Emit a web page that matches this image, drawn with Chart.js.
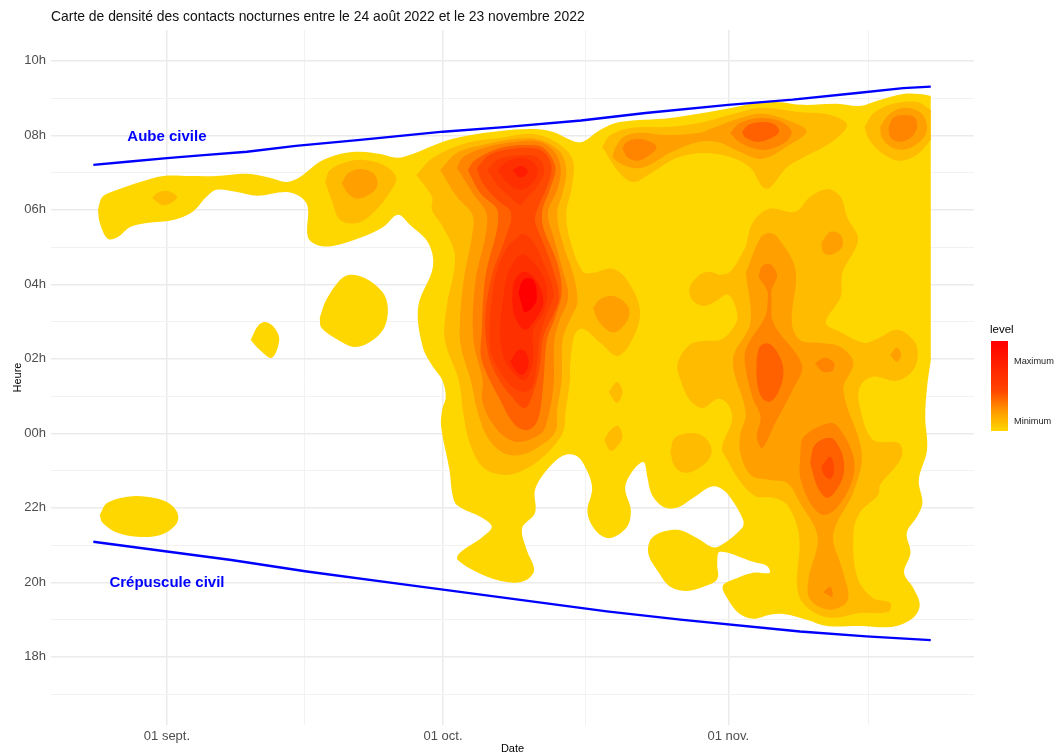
<!DOCTYPE html>
<html lang="fr">
<head>
<meta charset="utf-8">
<title>Carte de densité</title>
<script src="https://cdn.jsdelivr.net/npm/chart.js@4"></script>
<style>html,body{margin:0;padding:0;background:#fff}canvas{display:block}</style>
</head>
<body>
<canvas id="c" width="1059" height="756"></canvas>
<script>
// x = days since 1 Sept 2022; y = hour of night (24 = midnight, 32 = 08h next day)
const chartTitle = 'Carte de densité des contacts nocturnes entre le 24 août 2022 et le 23 novembre 2022';
const xTicks = [0, 15, 30, 45.5, 61, 76.2];
const xLabels = {0: '01 sept.', 30: '01 oct.', 61: '01 nov.'};
const yTicks = [17,18,19,20,21,22,23,24,25,26,27,28,29,30,31,32,33,34];

const dawnLine = [[-8,31.21],[-4,31.3],[0,31.39],[4,31.47],[8.7,31.56],[14,31.72],[21,31.88],[30,32.10],[37,32.23],[45,32.40],[52,32.60],[61,32.82],[68,32.96],[75,33.14],[80,33.27],[83,33.31]];
const duskLine = [[-8,21.09],[0,20.83],[7,20.6],[15.2,20.29],[25.3,19.96],[38.4,19.53],[47.8,19.22],[55.8,19.00],[68.8,18.68],[76,18.55],[83,18.45]];
const noteText = ['Aube civile', 'Crépuscule civil'];
const notePos = [[0,31.97],[0,19.98]];
const legendLabels = ['Maximum', 'Minimum'];

// Contour level 1 (gold)
const l1Main = [[-7.5,30],[-7,30.35],[-5.4,30.54],[-2.9,30.75],[-0.4,30.91],[2.5,30.91],[5.4,30.91],[8.7,30.97],[11.2,30.86],[13,30.75],[14.5,30.89],[16.6,31.29],[18.8,31.5],[21,31.56],[23.2,31.5],[25,31.4],[26.7,31.5],[30,31.83],[32.6,31.99],[36.2,32.12],[39.8,32.17],[42,32.09],[44.1,31.85],[45.2,31.83],[47.1,32.15],[49.2,32.36],[54.7,32.47],[60.1,32.68],[64.1,32.87],[66.3,32.9],[69.1,32.82],[72.8,32.85],[75.3,32.79],[77.2,32.93],[80,33.11],[81.8,33.11],[82.8,33.07],[83,33.05],[83,32.95],[83,30],[83,26.1],[83,25.97],[82.6,25.25],[82.4,24.44],[82.6,23.56],[81.7,22.75],[82.1,22.13],[81.5,21.76],[80.4,21.33],[80.8,20.79],[80.1,20.26],[81.1,19.85],[81.8,19.4],[81.1,19.05],[78.9,18.81],[75.3,18.83],[71.7,18.83],[69.6,18.99],[67,19.15],[65.5,19.13],[63.7,19.02],[62.1,19.18],[61,19.53],[60.4,19.91],[62,20.12],[63.7,20.26],[65.5,20.26],[65.2,20.44],[63.7,20.55],[60.1,20.82],[59.8,20.52],[59.8,20.09],[58.3,19.88],[56.5,19.77],[54.7,19.88],[53.4,20.28],[52.3,20.79],[52.8,21.22],[55.4,21.41],[57.6,21.19],[59.2,20.95],[60.1,20.98],[62.5,21.46],[62.6,21.68],[61,22.35],[59.9,22.56],[59,22.56],[57.2,22.27],[55.4,22],[53.9,22.03],[52.7,22.35],[52.2,22.83],[51.8,23.23],[50.7,23.02],[49.8,22.54],[50.4,21.95],[50,21.49],[48.2,21.19],[46.7,21.36],[45.7,21.87],[46.2,22.56],[45.2,23.21],[44.3,23.42],[43,23.4],[41.3,23.02],[40,22.48],[40,21.87],[38.6,21.46],[39.1,20.87],[39.9,20.34],[39.1,20.07],[37.6,19.99],[34.8,20.15],[31.6,20.6],[31.8,20.79],[34.3,21.22],[35.3,21.49],[34.3,21.73],[31.5,22.08],[31,22.4],[30.7,23.02],[29.8,24.17],[29.9,24.63],[30.3,24.98],[29.9,25.44],[28.9,25.79],[27.8,26.32],[27.3,27.4],[28.9,28.47],[28.4,29.11],[26.4,29.6],[25.1,29.87],[23.5,29.54],[21,29.25],[18,29.03],[16.3,29.06],[15.3,29.28],[15.3,30.08],[14.5,30.35],[13,30.48],[9.8,30.38],[7.6,30.48],[5.4,30.54],[4.3,30.35],[2.8,29.95],[0.7,29.73],[-2.2,29.65],[-4,29.54],[-5.3,29.28],[-6.4,29.22],[-7.3,29.65]];
const l1BlobA = [[16.6,27.1],[17.3,27.58],[18.8,28.12],[19.9,28.26],[21.5,28.17],[23.4,27.8],[24,27.37],[23.6,26.83],[22.1,26.46],[20.4,26.32],[18.6,26.51],[16.8,26.83]];
const l1BlobB = [[9.1,26.51],[9.9,26.89],[10.7,26.99],[11.7,26.83],[12.2,26.51],[11.4,26.03],[10.1,26.24]];
const l1BlobC = [[-7.3,21.81],[-6.5,22.13],[-4.3,22.3],[-2.2,22.3],[0,22.16],[1.1,21.89],[1.1,21.6],[-0.4,21.3],[-2.9,21.22],[-5.4,21.33],[-7,21.6]];

// Contour level 2
const l2Small = [[-1.6,30.32],[-1,30.46],[0.1,30.51],[1.1,30.35],[0.5,30.19],[-0.5,30.13]];
const l2Sept = [[17.2,30.75],[17.7,31.07],[19.6,31.29],[21.3,31.34],[23.5,31.21],[24.9,30.86],[23.9,30.35],[22.4,29.92],[20.7,29.65],[18.8,29.73],[18,30.19]];
const l2Central = [[27.1,30.94],[28.9,31.4],[32.6,31.8],[36.2,31.93],[39.8,32.04],[42.4,31.8],[44.1,31.34],[44,30.62],[43.4,29.92],[43.8,29.19],[45.2,28.34],[46.3,28.31],[48.4,28.42],[50,28.12],[51.4,27.32],[50.7,26.59],[49,26.08],[47.1,26.43],[45.2,26.81],[44.3,26.64],[43.8,25.79],[43.8,25.44],[43.3,24.55],[43,24.01],[40.9,23.37],[38.4,22.97],[36.5,22.89],[34.3,23.1],[32.9,23.74],[32.2,24.55],[31.7,25.44],[30.2,26.51],[30.4,27.4],[31.3,28.74],[30,29.54],[28.8,30],[28.8,30.35]];
const l2Diamond = [[48,25.11],[48.9,25.38],[49.5,25.11],[48.9,24.82]];
const l2Drop = [[47.5,23.83],[48.2,24.09],[49,24.2],[49.5,23.91],[48.9,23.64],[48.2,23.53]];
const l2Round = [[54.7,23.5],[55.2,23.88],[57.1,24.01],[58.5,23.88],[59.2,23.5],[58.3,23.15],[56.5,22.94],[55.2,23.1]];
const l2TopBand = [[47.3,31.69],[48.2,32.01],[50.4,32.2],[54.7,32.23],[58.3,32.36],[61.9,32.6],[64.7,32.74],[68.5,32.63],[72.1,32.55],[73.9,32.28],[72.1,31.8],[69.1,31.4],[67.4,31.15],[65.5,30.59],[64.7,30.62],[63.4,31.13],[61.2,31.42],[58.3,31.53],[55.4,31.4],[52.8,31.02],[50.7,30.75],[49.2,30.99]];
const l2TopRight = [[75.8,32.23],[76.8,32.6],[78.9,32.85],[81.5,32.9],[82.8,32.72],[83,32.66],[83,32.55],[83,32],[83,31.9],[82.8,31.82],[81.5,31.48],[79.5,31.32],[77.5,31.56],[76.2,31.93]];
const l2Right = [[62.9,29.01],[63.7,29.68],[65.5,30.03],[68.3,29.95],[69.9,30.35],[71.8,30.56],[73.2,30.35],[73.9,29.81],[75.1,29.19],[73.4,28.31],[73.2,27.66],[71.6,26.97],[73.2,26.72],[75.7,26.43],[77.2,26.54],[79.3,26.78],[81.1,26.51],[81.6,26.16],[81.1,25.7],[79.3,25.41],[76.7,25.52],[75.3,25.25],[75.3,24.71],[76.7,23.83],[79.5,23.74],[79.9,23.42],[78.9,23.02],[77.5,22.62],[77.3,22.35],[75.3,21.87],[74.6,21.33],[75,20.15],[76.7,19.58],[78.6,19.45],[78.4,19.21],[75.3,19.18],[72.1,19.05],[69.6,19.32],[68.5,19.8],[68.7,21.22],[67.5,22.05],[65.9,22.27],[63.9,22.32],[62,22.81],[60.9,23.29],[60.3,23.61],[61.4,24.36],[61,24.77],[59.9,24.93],[58.2,24.68],[56.8,24.9],[55.8,25.44],[55.5,25.89],[56.8,26.38],[58.3,26.48],[60.1,26.51],[61.2,26.72],[62,27.13],[61,27.72],[59.3,27.5],[58.2,27.42],[57.1,27.58],[56.8,27.91],[57.9,28.26],[59,28.34],[60.1,28.26],[61.2,28.34],[62.3,28.74]];

// Contour level 3
const l3Sept = [[19,30.72],[19.7,30.99],[21,31.1],[22.4,30.99],[22.9,30.72],[22.4,30.48],[20.7,30.3],[19.6,30.46]];
const l3Central = [[29.7,31.07],[31.5,31.53],[34.3,31.74],[38,31.91],[40.5,31.88],[42.7,31.56],[43.4,31.07],[43,30.46],[42.4,29.92],[43,29.11],[44.1,28.31],[44.6,27.53],[43.8,27.05],[43,26.51],[42.9,25.44],[42.4,24.63],[42.2,24.04],[40.2,23.61],[38.4,23.42],[36.5,23.48],[34.8,23.91],[33.7,24.63],[33,25.44],[32.1,26.16],[31.8,26.7],[32.2,28.04],[33.2,29.38],[33.2,29.87],[31.5,30.35]];
const l3Lobe = [[46.3,27.37],[47.1,27.61],[48.5,27.69],[50,27.45],[50.2,27.13],[49.2,26.78],[48.2,26.72],[46.8,27.05]];
const l3TopBand = [[48.7,31.66],[49.6,31.96],[51.4,32.07],[54.2,32.01],[57.9,32.07],[59.3,32.2],[62.3,32.47],[64.7,32.58],[67.3,32.42],[69.5,32.12],[67.6,31.74],[64.7,31.37],[62.2,31.56],[60.1,31.8],[57.9,31.83],[54.9,31.56],[51.9,31.15],[50.2,31.15],[48.5,31.4]];
const l3TopRight = [[77.5,32.23],[78.4,32.55],[80,32.74],[81.8,32.63],[82.6,32.28],[82.2,31.93],[80.5,31.64],[78.9,31.66],[77.7,31.93]];
const l3SmallA = [[71.1,29.11],[72.1,29.41],[73.2,29.33],[73.4,29.01],[72.1,28.79],[71.3,28.87]];
const l3SmallB = [[78.6,26.11],[79.3,26.3],[79.8,26.11],[79.3,25.92]];
const l3Right = [[62.9,28.31],[64.5,29.25],[65.5,29.38],[66.4,29.25],[68.3,28.39],[67.9,26.97],[68.8,26.51],[71,26.43],[73.2,26.32],[74.6,25.89],[73.5,25.17],[75.5,23.48],[74.6,22.43],[72.4,21.28],[73.4,20.34],[74,19.53],[72.1,19.26],[69.9,19.53],[69.7,20.07],[70.7,21.22],[68.8,22.13],[67.4,22.67],[65.5,22.75],[63.4,22.89],[62.3,23.48],[62.3,23.96],[62.9,24.55],[61.5,25.97],[63.4,26.97]];

// Contour level 4
const l4Central = [[31.5,31.13],[32.2,31.42],[34.8,31.69],[38,31.83],[40.5,31.83],[42.2,31.53],[42.8,31.07],[42.4,30.54],[41.4,29.92],[42,29.28],[43,28.39],[43.6,27.66],[42.7,27.05],[42.1,26.51],[42,25.25],[41.2,24.23],[40.5,23.96],[38,23.77],[35.9,24.09],[34.3,24.82],[34.3,25.44],[33.3,26.51],[33.5,28.04],[34.8,29.81],[33.2,30.46]];
const l4TopA = [[49.5,31.66],[50,31.83],[51.2,31.91],[52.8,31.8],[53.2,31.66],[52.5,31.48],[51.2,31.32],[50,31.42]];
const l4TopB = [[61.2,32.07],[62.3,32.34],[64.7,32.47],[66.8,32.36],[67.9,32.09],[67.1,31.8],[64.8,31.61],[62.3,31.8]];
const l4TopC = [[78.4,32.2],[78.9,32.47],[80.2,32.55],[81.3,32.47],[81.5,32.2],[80.8,31.93],[79.5,31.83],[78.6,31.96]];
const l4RightUp = [[64.3,28.2],[64.6,28.47],[65.5,28.55],[66.3,28.26],[65.7,27.85],[65.7,27.66],[65.9,26.97],[69,25.84],[68,25.17],[66.1,24.28],[64.7,23.61],[64.1,23.91],[64.5,24.44],[63.6,24.98],[62.8,25.89],[63,26.32],[65,27.13],[65.3,27.66],[65.2,27.85]];
const l4SmallA = [[70.4,25.89],[71.5,26.03],[72.5,25.89],[72.3,25.68],[71.3,25.65]];
const l4RightLow = [[68.8,23.37],[69.2,23.91],[72.1,24.28],[73.2,24.09],[74.6,23.37],[74.5,22.75],[72.8,22],[71.3,21.81],[69.9,22.13],[68.8,22.83]];
const l4SmallB = [[71.3,19.74],[72.1,19.88],[72.3,19.61]];

// Contour level 5
const l5Central = [[32.7,31.07],[33.5,31.34],[36.2,31.66],[39.1,31.74],[40.9,31.66],[42.2,31.15],[41.6,30.54],[40.8,30],[40.9,29.52],[42.4,28.58],[42.9,27.8],[42.2,27.13],[41.3,26.51],[40.9,25.36],[40.3,24.36],[39.2,24.09],[37.8,24.23],[36.2,24.9],[34.2,25.97],[34.2,26.7],[34.6,28.2],[36,29.92],[34,30.46]];
const l5TopB = [[62.5,32.09],[63.2,32.28],[64.8,32.36],[66.1,32.28],[66.5,32.09],[65.5,31.91],[64.1,31.83],[62.8,31.96]];
const l5RightUp = [[64.1,26.05],[64.5,26.35],[65.5,26.4],[66.6,26.05],[67,25.62],[66.4,25.09],[65.5,24.85],[64.6,24.98],[64.1,25.44]];
const l5RightLow = [[69.9,23.21],[70.4,23.69],[72.1,23.88],[73.2,23.56],[73.6,23.1],[73.2,22.67],[71.8,22.27],[70.7,22.56]];

// Contour level 6
const l6Central = [[33.7,31.13],[35.1,31.48],[37.6,31.64],[40.2,31.64],[41.4,31.42],[41.8,31.07],[41.3,30.62],[40.2,30],[40,29.68],[40.9,29.11],[42.2,28.2],[42.6,27.66],[42.2,27.32],[40.9,26.59],[40.5,25.79],[39.8,25.09],[38.9,24.68],[37.6,24.95],[35.9,25.52],[34.9,26.16],[34.6,27.13],[35.4,28.31],[36.7,29.19],[37.4,29.92],[35.9,30.27],[34.3,30.72]];
const l6RightLow = [[71.1,23.1],[72.1,23.37],[72.5,23.02],[72.1,22.78],[71.4,22.89]];

// Contour level 7
const l7Top = [[34.8,31.07],[35.9,31.34],[38,31.46],[40.2,31.42],[41,31.07],[40.2,30.62],[38.9,30.27],[38.4,30.13],[37.3,30.35],[35.9,30.67]];
const l7Column = [[37.8,29.19],[38.7,29.36],[39.8,29.14],[40.9,28.58],[42,27.77],[41.3,27.23],[40.5,26.59],[40.2,25.89],[39.7,25.25],[38.7,25.11],[37.3,25.3],[35.9,25.79],[35.1,26.32],[35.3,27.58],[35.9,28.39],[37,29.01]];

// Contour level 8
const l8Top = [[35.9,31.07],[36.9,31.29],[38.4,31.4],[39.8,31.29],[40.3,31.02],[39.7,30.72],[38.4,30.54],[36.9,30.75]];
const l8Column = [[38,28.74],[38.9,28.79],[40.5,28.39],[41.3,27.85],[40.9,27.23],[39.8,26.78],[39.8,25.97],[38.9,25.44],[37.5,25.65],[36.5,26.11],[36.2,26.78],[36.5,27.58],[37,28.26]];

// Contour level 9
const l9Top = [[37.6,31.07],[38.4,31.18],[39.2,31.07],[38.9,30.91],[38.2,30.89]];
const l9Upper = [[37.5,27.58],[37.8,28.12],[38.9,28.34],[40.3,28.04],[40.9,27.5],[40,27.05],[38.9,26.78],[37.8,27.13]];
const l9Lower = [[37.3,25.92],[38.2,26.24],[39,26.19],[39.3,25.84],[38.7,25.57],[38,25.65]];

// Contour level 10 (peak)
const l10Peak = [[38.2,27.77],[38.7,28.12],[39.8,28.12],[40.2,27.66],[39.8,27.4],[38.9,27.26],[38.5,27.5]];

const levelColors = ['#FFD700','#FFBB00','#FFA000','#FF8500','#FF6000','#FF4800','#FF3C00','#FF3000','#FF1C00','#FF0000'];
const levelShapes = [
  [l1Main,l1BlobA,l1BlobB,l1BlobC],
  [l2Small,l2Sept,l2Central,l2Diamond,l2Drop,l2Round,l2TopBand,l2TopRight,l2Right],
  [l3Sept,l3Central,l3Lobe,l3TopBand,l3TopRight,l3SmallA,l3SmallB,l3Right],
  [l4Central,l4TopA,l4TopB,l4TopC,l4RightUp,l4SmallA,l4RightLow,l4SmallB],
  [l5Central,l5TopB,l5RightUp,l5RightLow],
  [l6Central,l6RightLow],
  [l7Top,l7Column],
  [l8Top,l8Column],
  [l9Top,l9Upper,l9Lower],
  [l10Peak]
];

const toPts = a => a.map(p => ({x: p[0], y: p[1]}));
const datasets = [];
levelShapes.forEach((shapes, lvl) => {
  shapes.forEach(shape => {
    const pts = toPts(shape);
    pts.push(pts[0]);
    datasets.push({
      data: pts, showLine: true, pointRadius: 0, borderWidth: 0,
      borderColor: levelColors[lvl], backgroundColor: levelColors[lvl],
      fill: 'shape', tension: 0.35, order: 100 - lvl
    });
  });
});
[dawnLine, duskLine].forEach(line => {
  datasets.push({
    data: toPts(line), showLine: true, pointRadius: 0, borderWidth: 2.4,
    borderColor: '#0000FF', fill: false, tension: 0, order: 1
  });
});

const FONT = '"Liberation Sans", Arial, sans-serif';

const decor = {
  id: 'decor',
  afterDatasetsDraw(chart) {
    const {ctx, scales: {x, y}} = chart;
    ctx.save();
    ctx.textBaseline = 'middle';
    // title
    ctx.textAlign = 'left';
    ctx.fillStyle = '#111';
    ctx.font = '13.9px ' + FONT;
    ctx.fillText(chartTitle, 51, 17);
    // annotations
    ctx.fillStyle = '#0000FF';
    ctx.font = 'bold 15px ' + FONT;
    ctx.textAlign = 'center';
    noteText.forEach((t, i) => ctx.fillText(t, x.getPixelForValue(notePos[i][0]), y.getPixelForValue(notePos[i][1])));
    // legend
    const g = ctx.createLinearGradient(0, 341, 0, 431);
    g.addColorStop(0, '#FF0000');
    g.addColorStop(0.55, '#FF4500');
    g.addColorStop(0.8, '#FFA000');
    g.addColorStop(1, '#FFD700');
    ctx.fillStyle = g;
    ctx.fillRect(991, 341, 17, 90);
    ctx.textAlign = 'left';
    ctx.fillStyle = '#000';
    ctx.font = '11.5px ' + FONT;
    ctx.fillText('level', 990, 330);
    ctx.font = '9.2px ' + FONT;
    ctx.fillStyle = '#222';
    ctx.fillText(legendLabels[0], 1014, 361);
    ctx.fillText(legendLabels[1], 1014, 421);
    ctx.restore();
  }
};

new Chart(document.getElementById('c'), {
  type: 'scatter',
  data: {datasets},
  plugins: [decor],
  options: {
    responsive: false,
    animation: false,
    events: [],
    layout: {padding: {left: 0, right: 85, top: 30, bottom: 0}},
    plugins: {
      legend: {display: false},
      tooltip: {enabled: false},
      title: {display: false}
    },
    scales: {
      x: {
        type: 'linear', min: -12.6, max: 87.7,
        afterBuildTicks: s => { s.ticks = xTicks.map(v => ({value: v})); },
        afterFit: s => { s.height = 31; },
        border: {display: false},
        grid: {
          drawTicks: false,
          color: c => (xLabels[c.tick.value] ? '#EBEBEB' : '#F2F2F2'),
          lineWidth: c => (xLabels[c.tick.value] ? 1.5 : 1)
        },
        ticks: {
          autoSkip: false, maxRotation: 0, color: '#4D4D4D', padding: 4,
          font: {family: FONT, size: 13},
          callback: v => xLabels[v] || ''
        },
        title: {display: true, text: 'Date', color: '#000', padding: 0, font: {family: FONT, size: 11}}
      },
      y: {
        type: 'linear', min: 16.17, max: 34.83,
        afterBuildTicks: s => { s.ticks = yTicks.map(v => ({value: v})); },
        afterFit: s => { s.width = 51; },
        border: {display: false},
        grid: {
          drawTicks: false,
          color: c => (c.tick.value % 2 === 0 ? '#EBEBEB' : '#F2F2F2'),
          lineWidth: c => (c.tick.value % 2 === 0 ? 1.5 : 1)
        },
        ticks: {
          autoSkip: false, color: '#4D4D4D', padding: 5,
          font: {family: FONT, size: 13},
          callback: v => (v % 2 === 0 ? String(v % 24).padStart(2, '0') + 'h' : '')
        },
        title: {display: true, text: 'Heure', color: '#000', padding: {top: 11, bottom: 0}, font: {family: FONT, size: 11}}
      }
    }
  }
});
</script>
</body>
</html>
